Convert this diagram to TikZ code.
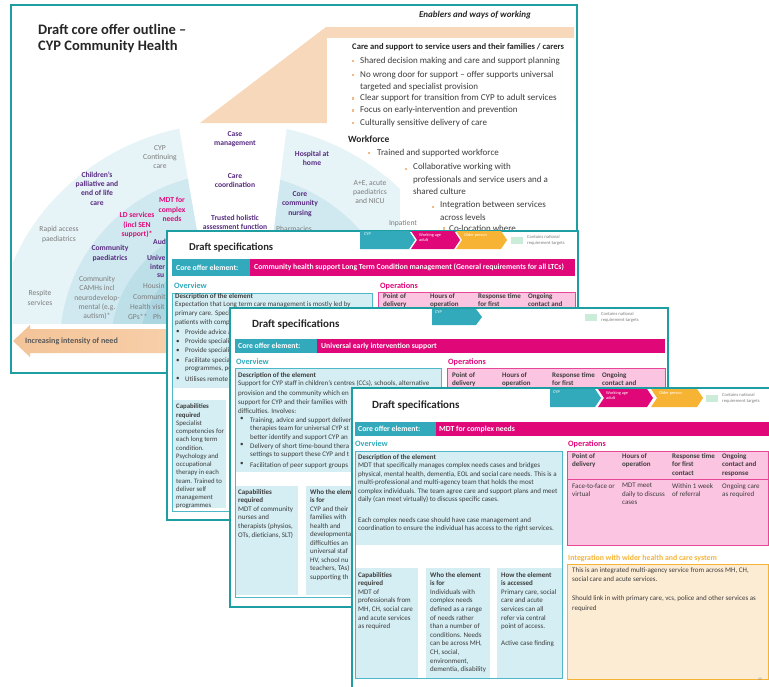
\documentclass[tikz,border=0pt]{standalone}
\usepackage{fontspec}
\setmainfont{Carlito}
\definecolor{slideteal}{RGB}{28,158,162}
\definecolor{hdrteal}{RGB}{50,170,188}
\definecolor{mag}{RGB}{224,8,120}
\definecolor{pinkfill}{RGB}{251,197,225}
\definecolor{pinkline}{RGB}{232,70,150}
\definecolor{lblue}{RGB}{212,238,243}
\definecolor{lbline}{RGB}{78,184,200}
\definecolor{orng}{RGB}{247,180,52}
\definecolor{peachfill}{RGB}{253,236,212}
\definecolor{peach}{RGB}{248,216,186}
\definecolor{bulpeach}{RGB}{242,184,136}
\definecolor{purp}{RGB}{88,44,128}
\definecolor{bodyg}{RGB}{60,60,60}
\definecolor{greyt}{RGB}{125,125,125}
\definecolor{ringa}{RGB}{230,243,247}
\definecolor{ringb}{RGB}{208,233,240}
\definecolor{ringc}{RGB}{188,223,232}
\definecolor{ringd}{RGB}{172,214,225}
\definecolor{legendgreen}{RGB}{204,236,218}
\definecolor{arrowdark}{RGB}{244,196,152}
\definecolor{arrowlight}{RGB}{252,232,212}
\definecolor{titleg}{RGB}{38,38,38}
\begin{document}
\begin{tikzpicture}[x=1pt,y=-1pt,
  frame/.style={draw=slideteal,line width=1.6pt,fill=white},
  txt/.style={inner sep=0pt,anchor=north west,align=left,text=bodyg,font=\fontsize{7}{8.6}\selectfont},
  fanp/.style={inner sep=0pt,align=center,text=purp,font=\bfseries\fontsize{7.6}{9.4}\selectfont},
  fanm/.style={fanp,text=mag},
  fang/.style={inner sep=0pt,align=center,text=greyt,font=\fontsize{7.6}{9.4}\selectfont},
  sltitle/.style={inner sep=0pt,anchor=west,text=titleg,font=\bfseries\fontsize{11}{13}\selectfont},
  chevtxt/.style={inner sep=0pt,anchor=north west,align=left,text=white,font=\fontsize{4.3}{5}\selectfont},
  legendtxt/.style={inner sep=0pt,anchor=north west,align=left,text=greyt,font=\fontsize{4.6}{6.2}\selectfont},
  corelbl/.style={inner sep=0pt,anchor=west,text=white,font=\bfseries\fontsize{7.7}{9}\selectfont},
  sechead/.style={inner sep=0pt,anchor=west,font=\bfseries\fontsize{8.2}{10}\selectfont},
  enbul/.style={inner sep=0pt,anchor=west,text=bodyg,font=\fontsize{9}{12.5}\selectfont},
  descbox/.style={fill=lblue},
  ovframe/.style={draw=lbline,line width=0.9pt},
  opsbox/.style={fill=pinkfill,draw=pinkline,line width=0.9pt},
  opsh/.style={txt,font=\bfseries\fontsize{7}{8.6}\selectfont},
]
\useasboundingbox (0,0) rectangle (769,686);

% ================= SLIDE 1 =================
\draw[frame] (11,5) rectangle (577,373);
\node[inner sep=0pt,anchor=north west,align=left,text=titleg,font=\bfseries\fontsize{14.5}{16.5}\selectfont] (t1) at (38,24) {Draft core offer outline --\\CYP Community Health};

% fan
\begin{scope}
\clip (12.5,6.5) rectangle (575.5,323);
\fill[ringa] (232,345) ellipse [x radius=236, y radius=222];
\fill[ringb] (232,345) circle (172);
\fill[ringc] (232,345) circle (121);
\fill[ringd] (232,345) circle (92);
\end{scope}
\fill[white] (176,110) -- (289,110) -- (273,236) -- (198,236) -- cycle;

% enablers shape
\fill[peach] (200,123) -- (326,27) -- (574,27) -- (574,123) -- cycle;
\fill[white] (327,38) rectangle (574,131);
\fill[white] (400,160) rectangle (575,231);

\node[inner sep=0pt,text=titleg,font=\bfseries\itshape\fontsize{9}{11}\selectfont] (enab) at (475,15) {Enablers and ways of working};
\node[inner sep=0pt,anchor=west,text=titleg,font=\bfseries\fontsize{8.6}{11}\selectfont] (care) at (352,47) {Care and support to service users and their families / carers};
\foreach \yy/\lab [count=\i] in {61/Shared decision making and care and support planning,
  75/No wrong door for support -- offer supports universal,
  98.5/Clear support for transition from CYP to adult services,
  110.5/Focus on early-intervention and prevention,
  123/Culturally sensitive delivery of care}{
  \fill[bulpeach] (351.7,\yy-1.3) rectangle +(2.6,2.6);
  \node[enbul] (cb\i) at (360,\yy) {\lab};
}
\node[enbul] (cb2b) at (360,87) {targeted and specialist provision};

\node[inner sep=0pt,anchor=west,text=titleg,font=\bfseries\fontsize{9.5}{11}\selectfont] (wf) at (348,139) {Workforce};
\fill[bulpeach] (367.7,151.7) rectangle +(2.6,2.6);
\node[enbul] (wf1) at (377,153) {Trained and supported workforce};
\fill[bulpeach] (404.7,167.7) rectangle +(2.6,2.6);
\node[enbul,anchor=north west,align=left] (wf2) at (413,163.5) {Collaborative working with\\professionals and service users and a\\shared culture};
\fill[bulpeach] (431.7,205.7) rectangle +(2.6,2.6);
\node[enbul,anchor=north west,align=left] (wf3) at (440,201.5) {Integration between services\\across levels};
\fill[bulpeach] (442.7,227.2) rectangle +(2.6,2.6);
\node[enbul] (wf4) at (449,228.5) {Co-location where};

% fan labels
\node[fang] (f1) at (160,157) {CYP\\Continuing\\care};
\node[fanp] (f2) at (235,139) {Case\\management};
\node[fanp] (f3) at (312,158.5) {Hospital at\\home};
\node[fanp] (f4) at (97,188.5) {Children's\\palliative and\\end of life\\care};
\node[fanp] (f5) at (235,180.5) {Care\\coordination};
\node[fanm] (f6) at (172,209.5) {MDT for\\complex\\needs};
\node[fanp] (f7) at (300,204) {Core\\community\\nursing};
\node[fanm] (f8) at (137,225) {LD services\\(incl SEN\\support)*};
\node[fanp] (f9) at (235,222.5) {Trusted holistic\\assessment function};
\node[fang] (f10) at (59,234.5) {Rapid access\\paediatrics};
\node[fanp] (f11) at (110,253.5) {Community\\paediatrics};
\node[fanp,anchor=west] (f12) at (153,242) {Aud};
\node[fanp,anchor=west] (f13a) at (147,258) {Unive};
\node[fanp,anchor=west] (f13b) at (150,267) {inter};
\node[fanp,anchor=west] (f13c) at (157,276) {su};
\node[fang,anchor=west] (f14) at (143,286) {Housin};
\node[fang,anchor=west] (f15) at (133,297) {Communit};
\node[fang,anchor=west] (f16) at (130,307) {Health visit};
\node[fang,anchor=west] (f17) at (128,317) {GPs**};
\node[fang,anchor=west] (f18) at (153,317) {Ph};
\node[fang] (f19) at (40,298) {Respite\\services};
\node[fang] (f20) at (97,298) {Community\\CAMHs incl\\neurodevelop-\\mental (e.g.\\autism)*};
\node[fang] (f21) at (370,192) {A+E, acute\\paediatrics\\and NICU};
\node[fang] (f22) at (403,228) {Inpatient\\CAMHS*};
\node[fang,anchor=west] (f23) at (276,229) {Pharmacies};

% intensity arrow
\shade[left color=arrowdark,right color=arrowlight] (13,341) -- (30,325) -- (30,329) -- (560,329) -- (560,353) -- (30,353) -- (30,357) -- cycle;
\node[inner sep=0pt,anchor=west,text=bodyg!85,font=\bfseries\fontsize{8.1}{10}\selectfont] (arr) at (25,341) {Increasing intensity of need};

% ================= SLIDE 2 =================
\draw[frame] (167,231) rectangle (578,520);
\node[sltitle,font=\bfseries\fontsize{10.6}{13}\selectfont] (s2t) at (189,248) {Draft specifications};
\fill[hdrteal] (360,231) -- (409,231) -- (415,240) -- (409,249) -- (360,249) -- cycle;
\fill[mag] (411,231) -- (454,231) -- (460,240) -- (454,249) -- (411,249) -- (417,240) -- cycle;
\fill[orng] (456,231) -- (501,231) -- (507,240) -- (501,249) -- (456,249) -- (462,240) -- cycle;
\node[chevtxt] (s2c1) at (364,233) {CYP};
\node[chevtxt] (s2c2) at (419,233) {Working age\\adult};
\node[chevtxt] (s2c3) at (464,233) {Older person};
\fill[legendgreen] (511,237) rectangle (523,244);
\node[legendtxt] (s2lg) at (527,235) {Contains national\\requirement targets};
\fill[hdrteal] (172,259) rectangle (250,276);
\fill[mag] (250,259) rectangle (575,276);
\node[corelbl] (s2co) at (176,267.5) {Core offer element:};
\node[corelbl] (s2ce) at (254,267.5) {Community health support Long Term Condition management (General requirements for all LTCs)};
\node[sechead,text=hdrteal] (s2ov) at (174,286) {Overview};
\node[sechead,text=mag] (s2op) at (380,286) {Operations};
\fill[descbox] (172,293) rectangle (372,388);
\fill[descbox] (173,400) rectangle (226,508);
\draw[ovframe] (172,293) rectangle (372,511);
\node[txt] (s2d) at (175,293) {\textbf{Description of the element}\\Expectation that Long term care management is mostly led by};
\node[txt,anchor=west] (s2d2) at (175,314) {primary care. Speci};
\node[txt,anchor=west] (s2d3) at (175,322.5) {patients with compl};
\foreach \yy/\lab [count=\i] in {332/Provide advice a,342/Provide speciali,351/Provide speciali,361/Facilitate special,369/{programmes, pe},379/Utilises remote}{
  \node[txt,anchor=west] (s2b\i) at (185,\yy) {\lab};
}
\foreach \yy [count=\i] in {332,342,351,361,379}{\node[txt,anchor=west] (s2bb\i) at (176,\yy) {•};}
\node[txt,font=\fontsize{6.8}{8.25}\selectfont] (s2cap) at (176,404) {\textbf{Capabilities}\\\textbf{required}\\Specialist\\competencies for\\each long term\\condition.\\Psychology and\\occupational\\therapy in each\\team. Trained to\\deliver self\\management\\programmes};
\draw[opsbox] (378,292) rectangle (575,400);
\node[opsh] (s2o1) at (383,293) {Point of\\delivery};
\node[opsh] (s2o2) at (430,293) {Hours of\\operation};
\node[opsh] (s2o3) at (478,293) {Response time\\for first};
\node[opsh] (s2o4) at (528,293) {Ongoing\\contact and};

% ================= SLIDE 3 =================
\draw[frame] (230,308) rectangle (668,607);
\node[sltitle] (s3t) at (252,324) {Draft specifications};
\fill[hdrteal] (432,309) -- (476,309) -- (482,317) -- (476,325) -- (432,325) -- cycle;
\node[chevtxt] (s3c1) at (435,311) {CYP};
\fill[legendgreen] (585,314) rectangle (597,321);
\node[legendtxt] (s3lg) at (601,312) {Contains national\\requirement targets};
\fill[hdrteal] (235,339) rectangle (317,353);
\fill[mag] (317,339) rectangle (665,353);
\node[corelbl] (s3co) at (238,346) {Core offer element:};
\node[corelbl] (s3ce) at (321,346) {Universal early intervention support};
\node[sechead,text=hdrteal] (s3ov) at (236,362) {Overview};
\node[sechead,text=mag] (s3op) at (448,362) {Operations};
\fill[descbox] (235,368) rectangle (441,472);
\fill[descbox] (236,486) rectangle (298,595);
\fill[descbox] (306,486) rectangle (368,595);
\draw[ovframe] (235,368) rectangle (441,597);
\node[txt,font=\fontsize{7}{8.7}\selectfont] (s3d) at (238,372) {\textbf{Description of the element}\\Support for CYP staff in children's centres (CCs), schools, alternative};
\node[txt,font=\fontsize{7}{8.7}\selectfont] (s3d2) at (238,390.6) {provision and the community which en\\support for CYP and their families with\\difficulties. Involves:};
\node[txt,font=\fontsize{7}{8.7}\selectfont] (s3b1) at (250,417) {Training, advice and support deliver\\therapies team for universal CYP st\\better identify and support CYP an};
\node[txt,font=\fontsize{7}{8.7}\selectfont] (s3b2) at (250,443) {Delivery of short time-bound thera\\settings to support these CYP and t};
\node[txt,font=\fontsize{7}{8.7}\selectfont] (s3b3) at (250,462) {Facilitation of peer support groups};
\node[txt] (s3bb1) at (240,417) {•};
\node[txt] (s3bb2) at (240,443) {•};
\node[txt] (s3bb3) at (240,462) {•};
\node[txt,font=\fontsize{7}{8.6}\selectfont] (s3cap) at (238,489) {\textbf{Capabilities}\\\textbf{required}\\MDT of community\\nurses and\\therapists (physios,\\OTs, dieticians, SLT)};
\node[txt,font=\fontsize{7}{8.5}\selectfont] (s3who) at (310,489) {\textbf{Who the elem}\\\textbf{is for}\\CYP and their\\families with\\health and\\developmenta\\difficulties an\\universal staf\\HV, school nu\\teachers, TAs)\\supporting th};
\draw[opsbox] (447,368) rectangle (665,480);
\node[opsh] (s3o1) at (452,372) {Point of\\delivery};
\node[opsh] (s3o2) at (502,372) {Hours of\\operation};
\node[opsh] (s3o3) at (552,372) {Response time\\for first};
\node[opsh] (s3o4) at (602,372) {Ongoing\\contact and};

% ================= SLIDE 4 =================
\draw[frame] (352,388) rectangle (775,695);
\node[sltitle] (s4t) at (372,405) {Draft specifications};
\fill[hdrteal] (550,389) -- (595,389) -- (601,398) -- (595,407) -- (550,407) -- cycle;
\fill[mag] (598,389) -- (647,389) -- (653,398) -- (647,407) -- (598,407) -- (604,398) -- cycle;
\fill[orng] (651,389) -- (697,389) -- (703,398) -- (697,407) -- (651,407) -- (657,398) -- cycle;
\node[chevtxt] (s4c1) at (553,391) {CYP};
\node[chevtxt] (s4c2) at (606,391) {Working age\\adult};
\node[chevtxt] (s4c3) at (659,391) {Older person};
\fill[legendgreen] (706,395) rectangle (718,402);
\node[legendtxt] (s4lg) at (722,393) {Contains national\\requirement targets};
\fill[hdrteal] (355,422) rectangle (436,436);
\fill[mag] (436,422) rectangle (769,436);
\node[corelbl] (s4co) at (358,429) {Core offer element:};
\node[corelbl] (s4ce) at (439,429) {MDT for complex needs};
\node[sechead,text=hdrteal] (s4ov) at (355,444) {Overview};
\node[sechead,text=mag] (s4op) at (568,444) {Operations};
\fill[descbox] (355,451) rectangle (562,545);
\fill[descbox] (355,568) rectangle (418,678);
\fill[descbox] (426,568) rectangle (490,678);
\fill[descbox] (497,568) rectangle (562,678);
\draw[ovframe] (355,451) rectangle (562,678);
\node[txt,font=\fontsize{7}{8.5}\selectfont] (s4d) at (358,454) {\textbf{Description of the element}\\MDT that specifically manages complex needs cases and bridges\\physical, mental health, dementia, EOL and social care needs. This is a\\multi-professional and multi-agency team that holds the most\\complex individuals. The team agree care and support plans and meet\\daily (can meet virtually) to discuss specific cases.};
\node[txt,font=\fontsize{7}{8.5}\selectfont] (s4d2) at (358,517) {Each complex needs case should have case management and\\coordination to ensure the individual has access to the right services.};
\node[txt] (s4cap) at (358,572) {\textbf{Capabilities}\\\textbf{required}\\MDT of\\professionals from\\MH, CH, social care\\and acute services\\as required};
\node[txt] (s4who) at (430,572) {\textbf{Who the element}\\\textbf{is for}\\Individuals with\\complex needs\\defined as a range\\of needs rather\\than a number of\\conditions. Needs\\can be across MH,\\CH, social,\\environment,\\dementia, disability};
\node[txt] (s4how) at (501,572) {\textbf{How the element}\\\textbf{is accessed}\\Primary care, social\\care and acute\\services can all\\refer via central\\point of access.\\[8.6pt]Active case finding};
\draw[opsbox] (567,451) rectangle (768,545);
\draw[pinkline,line width=0.6pt] (567,479) -- (768,479);
\node[opsh] (s4o1) at (572,453) {Point of\\delivery};
\node[opsh] (s4o2) at (622,453) {Hours of\\operation};
\node[opsh] (s4o3) at (672,453) {Response time\\for first\\contact};
\node[opsh] (s4o4) at (722,453) {Ongoing\\contact and\\response};
\node[txt] (s4r1) at (572,483) {Face-to-face or\\virtual};
\node[txt] (s4r2) at (622,483) {MDT meet\\daily to discuss\\cases};
\node[txt] (s4r3) at (672,483) {Within 1 week\\of referral};
\node[txt] (s4r4) at (722,483) {Ongoing care\\as required};
\node[sechead,text=orng,font=\bfseries\fontsize{7.8}{10}\selectfont] (s4ih) at (568,558) {Integration with wider health and care system};
\draw[fill=peachfill,draw=orng,line width=0.9pt] (567,564) rectangle (768,679);
\node[txt,font=\fontsize{7}{9.5}\selectfont] (s4i) at (572,567) {This is an integrated multi-agency service from across MH, CH,\\social care and acute services.\\[9.5pt]Should link in with primary care, vcs, police and other services as\\required};
\node[inner sep=0pt,text=greyt,font=\fontsize{3.5}{4}\selectfont] (pg) at (760,679) {25};
\end{tikzpicture}
\end{document}
